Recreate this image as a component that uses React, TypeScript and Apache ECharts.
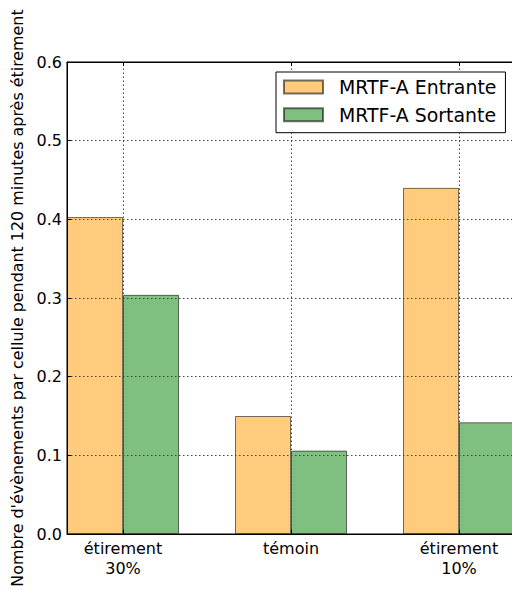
import React, { useEffect, useRef } from "react";
import * as echarts from "echarts";

const categories = ["étirement\n30%", "témoin", "étirement\n10%"];
const catPositions = [0, 1, 2];
const entrante = [0.403, 0.15, 0.44];
const sortante = [0.304, 0.106, 0.142];
const seriesNames = ["MRTF-A Entrante", "MRTF-A Sortante"];
const yTitle = "Nombre d'évènements par cellule pendant 120 minutes après étirement";

const FONT = "DejaVu Sans";

export default function App() {
  const ref = useRef<HTMLDivElement>(null);
  useEffect(() => {
    document.body.style.margin = "0";
    const chart = echarts.init(ref.current!, null, { renderer: "svg" });
    const xBase = {
      type: "value" as const,
      min: -1 / 3,
      max: 7 / 3,
    };
    const grid = { color: "#444", type: [1.5, 2.5], width: 1 };
    chart.setOption({
      animation: false,
      backgroundColor: "#fff",
      grid: {
        left: 67,
        top: 62,
        bottom: 56,
        right: 0,
        show: true,
        borderColor: "#000",
        borderWidth: 1,
        backgroundColor: "transparent",
      },
      legend: {
        orient: "vertical",
        left: 276,
        top: 72,
        padding: [5, 9, 8, 7],
        itemGap: 7.7,
        itemWidth: 39,
        itemHeight: 13,
        icon: "rect",
        borderColor: "#000",
        borderWidth: 1,
        backgroundColor: "#fff",
        textStyle: {
          fontFamily: FONT,
          fontSize: 18.9,
          lineHeight: 20,
          color: "#000",
          padding: [0, 0, 0, 11],
        },
        data: seriesNames,
      },
      xAxis: [
        {
          ...xBase,
          position: "bottom",
          z: 3,
          axisLine: { show: true, onZero: false, lineStyle: { color: "#000", width: 1 } },
          axisTick: {
            show: true,
            inside: true,
            length: 4,
            customValues: catPositions,
            lineStyle: { color: "#000" },
          },
          axisLabel: {
            show: true,
            margin: 5,
            fontFamily: FONT,
            fontSize: 16,
            color: "#000",
            lineHeight: 19.5,
            customValues: catPositions,
            formatter: (v: number) => categories[Math.round(v)] ?? "",
          },
          splitLine: { show: false },
        },
        {
          ...xBase,
          position: "top",
          z: 3,
          axisLine: { show: true, onZero: false, lineStyle: { color: "#000" } },
          axisTick: {
            show: true,
            inside: true,
            length: 4,
            customValues: catPositions,
            lineStyle: { color: "#000" },
          },
          axisLabel: { show: false, customValues: catPositions },
          splitLine: { show: false },
        },
      ],
      yAxis: {
        type: "value",
        min: 0,
        max: 0.6,
        interval: 0.1,
        z: 3,
        name: yTitle,
        nameLocation: "middle",
        nameGap: 42,
        nameTextStyle: { fontFamily: FONT, fontSize: 15.9, color: "#000" },
        axisLine: { show: true, onZero: false, lineStyle: { color: "#000" } },
        axisTick: { show: true, inside: true, length: 4, lineStyle: { color: "#000" } },
        axisLabel: {
          margin: 5,
          fontFamily: FONT,
          fontSize: 16,
          color: "#000",
          formatter: (v: number) => v.toFixed(1),
        },
        splitLine: { show: true, lineStyle: grid },
      },
      series: [
        {
          name: seriesNames[0],
          type: "bar",
          xAxisIndex: 0,
          barWidth: 56,
          barGap: "0%",
          itemStyle: { color: "#FECC7C", borderColor: "rgba(0,0,0,0.55)", borderWidth: 1 },
          data: entrante.map((v, i) => [catPositions[i], v]),
        },
        {
          name: seriesNames[1],
          type: "bar",
          xAxisIndex: 0,
          barWidth: 56,
          barGap: "0%",
          itemStyle: { color: "#7FBF7F", borderColor: "rgba(0,0,0,0.55)", borderWidth: 1 },
          data: sortante.map((v, i) => [catPositions[i], v]),
        },
        {
          name: "vgrid",
          type: "scatter",
          xAxisIndex: 0,
          z: 3,
          silent: true,
          symbolSize: 0,
          data: [],
          markLine: {
            silent: true,
            symbol: "none",
            z: 3,
            label: { show: false },
            lineStyle: grid,
            data: catPositions.map((p) => ({ xAxis: p })),
          },
        },
      ],
    });
    return () => chart.dispose();
  }, []);
  return (
    <div style={{ position: "absolute", left: 0, top: 0, width: 512, height: 590, overflow: "hidden" }}>
      <div ref={ref} style={{ width: 515, height: 590 }} />
    </div>
  );
}
